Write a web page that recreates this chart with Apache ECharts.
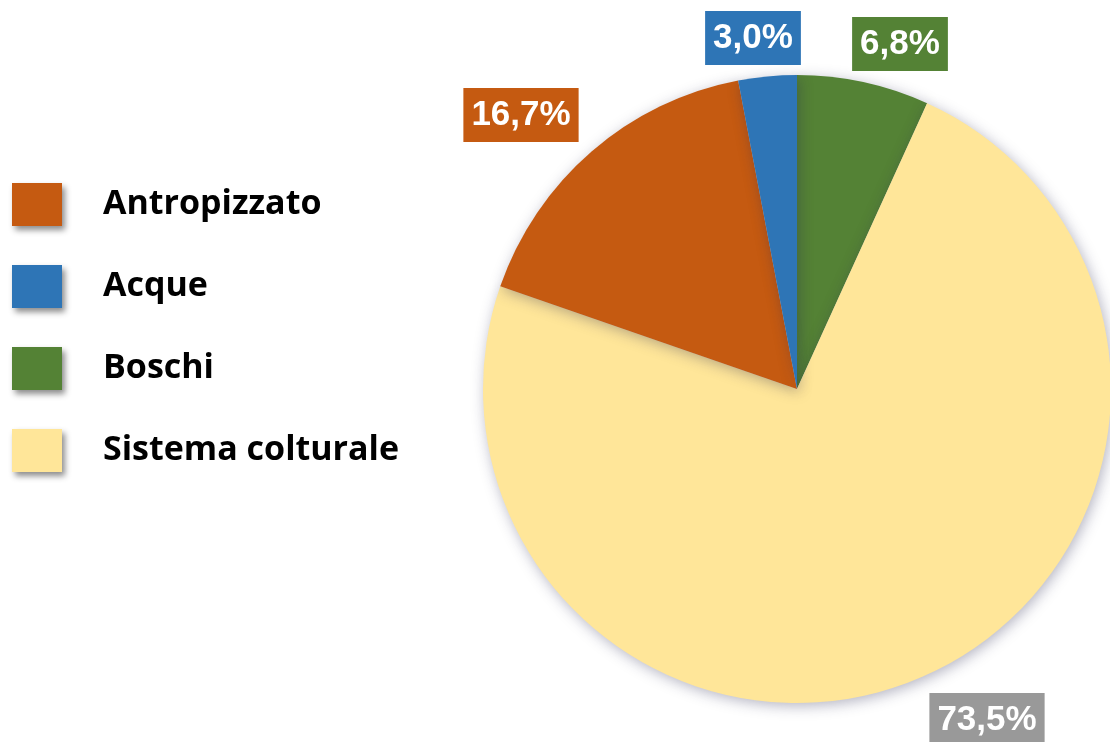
<!DOCTYPE html>
<html>
<head>
<meta charset="utf-8">
<script src="https://cdn.jsdelivr.net/npm/echarts@6/dist/echarts.min.js"></script>
<style>
  html, body { margin: 0; padding: 0; background: #fff; }
  #main { width: 1110px; height: 742px; }
</style>
</head>
<body>
<div id="main"></div>
<script>
// dati (percentuali)
var categories = ["Boschi", "Sistema colturale", "Antropizzato", "Acque"];
var values = [6.8, 73.5, 16.7, 3.0];
var legendOrder = ["Antropizzato", "Acque", "Boschi", "Sistema colturale"];

var colors = {
  "Antropizzato": "#C55A11",
  "Acque": "#2E75B6",
  "Boschi": "#548235",
  "Sistema colturale": "#FFE699"
};
var labelBg = {
  "Antropizzato": "#C55A11",
  "Acque": "#2E75B6",
  "Boschi": "#548235",
  "Sistema colturale": "#999999"
};
// centro delle etichette (px)
var labelAt = {
  "Boschi": [900, 44],
  "Sistema colturale": [987, 720],
  "Antropizzato": [521, 115],
  "Acque": [753, 38]
};

var chartDom = document.getElementById("main");
var myChart = echarts.init(chartDom);

var pieData = categories.map(function (name, i) {
  return {
    name: name,
    value: values[i],
    itemStyle: { color: colors[name] },
    label: { backgroundColor: labelBg[name] }
  };
});

var option = {
  animation: false,
  legend: {
    data: legendOrder,
    orient: "vertical",
    left: 12,
    top: 183,
    padding: 0,
    itemWidth: 50,
    itemHeight: 43,
    itemGap: 39,
    icon: "rect",
    selectedMode: false,
    itemStyle: {
      shadowBlur: 6,
      shadowColor: "rgba(0,0,0,0.45)",
      shadowOffsetX: 3,
      shadowOffsetY: 4
    },
    textStyle: {
      fontFamily: "Open Sans",
      fontWeight: "bold",
      fontSize: 34,
      color: "#000",
      padding: [0, 0, 0, 36]
    }
  },
  series: [
    {
      type: "pie",
      center: [797, 389],
      radius: 314,
      startAngle: 90,
      clockwise: true,
      data: pieData,
      itemStyle: {
        borderWidth: 0,
        shadowBlur: 14,
        shadowColor: "rgba(40,40,80,0.35)",
        shadowOffsetX: 2,
        shadowOffsetY: 3
      },
      emphasis: { disabled: true },
      labelLine: { show: false },
      label: {
        show: true,
        position: "outside",
        formatter: function (p) {
          return p.value.toFixed(1).replace(".", ",") + "%";
        },
        color: "#fff",
        fontFamily: "Liberation Sans",
        fontWeight: "bold",
        fontSize: 35,
        lineHeight: 36,
        padding: [9, 8]
      },
      labelLayout: function (params) {
        var pos = labelAt[categories[params.dataIndex]];
        return { x: pos[0], y: pos[1], align: "center", verticalAlign: "middle" };
      }
    }
  ]
};

option && myChart.setOption(option);
</script>
</body>
</html>
